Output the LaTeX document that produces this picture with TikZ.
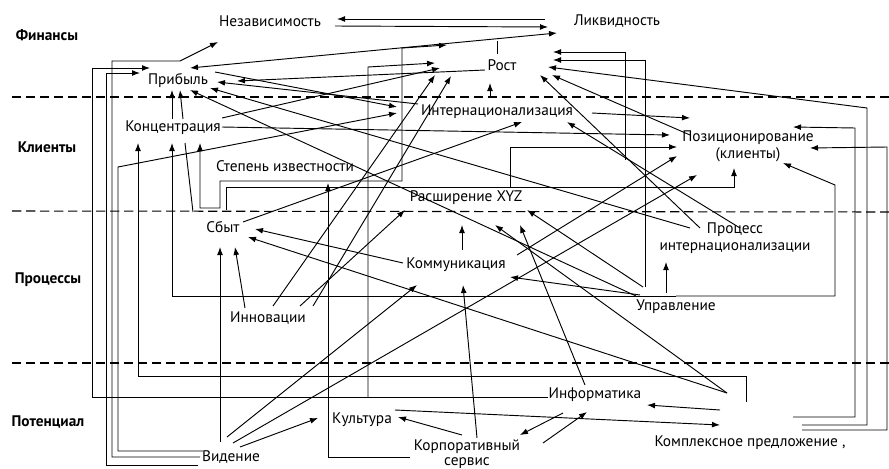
\documentclass[tikz,border=0pt]{standalone}
\usepackage{fontspec}
\setmainfont{PT Sans}
\usetikzlibrary{arrows.meta}
\begin{document}
\begin{tikzpicture}[x=0.75pt,y=-0.75pt,
  lbl/.style={font=\fontsize{11.5}{13}\selectfont, inner sep=1pt, align=center},
  row/.style={font=\bfseries\fontsize{11.5}{13}\selectfont, inner sep=1pt},
  con/.style={line width=0.7pt, -{Latex[length=6pt,width=4.4pt]}},
  con2/.style={line width=0.7pt, {Latex[length=6pt,width=4.4pt]}-{Latex[length=6pt,width=4.4pt]}},
  ln/.style={line width=0.7pt},
  sep/.style={line width=0.8pt, dash pattern=on 7pt off 3.5pt}]
\useasboundingbox (0,0) rectangle (889,468);
% row labels
\node[row] (fin) at (47,35) {Финансы};
\node[row] (kli) at (47,147) {Клиенты};
\node[row] (pro) at (48,280) {Процессы};
\node[row] (pot) at (48,422) {Потенциал};
% nodes
\node[lbl] (nez) at (270,21) {Независимость};
\node[lbl] (lik) at (617,21) {Ликвидность};
\node[lbl] (pri) at (178,80) {Прибыль};
\node[lbl] (rost) at (502,65) {Рост};
\node[lbl] (int) at (497,112) {Интернационализация};
\node[lbl] (kon) at (173,128) {Концентрация};
\node[lbl] (pos) at (748,146) {Позиционирование\\(клиенты)};
\node[lbl] (ste) at (285,166) {Степень известности};
\node[lbl] (ras) at (466,198) {Расширение XYZ};
\node[lbl] (sby) at (223,227) {Сбыт};
\node[lbl] (pin) at (735,238) {Процесс\\интернационализации};
\node[lbl] (kom) at (456,265) {Коммуникация};
\node[lbl] (inn) at (268,318) {Инновации};
\node[lbl] (upr) at (676,307) {Управление};
\node[lbl] (inf) at (595,395) {Информатика};
\node[lbl] (kul) at (362,420) {Культура};
\node[lbl, font=\fontsize{11.5}{11.5}\selectfont] (kor) at (467,454) {Корпоративный\\сервис};
\node[lbl] (kpr) at (750,443) {Комплексное предложение ,};
\node[lbl] (vid) at (231,457) {Видение};
% separators
\draw[sep] (12,97) -- (889,97);
\draw[sep] (12,211) -- (889,212);
\draw[sep] (12,363) -- (889,363);
% finance row
\draw[con] (545,19) -- (337,19);
\draw[con] (335,26) -- (548,27);
\draw[con2] (190,68) -- (557,33);
\draw[ln] (497,54) -- (497,41);
% left buses
\draw[con] (200,457) -- (112,457) -- (112,61) -- (180,61) -- (218,42);
\draw[con] (198,465) -- (106,465) -- (106,73) -- (140,73);
\draw[con] (203,451) -- (118,451) -- (118,167) -- (397,113);
\draw[con] (548,397) -- (92,397) -- (92,68) -- (150,68);
\draw[con] (746,402) -- (746,376) -- (138,376) -- (138,143);
\draw[con] (676,296) -- (172,296) -- (172,143);
\draw[con] (676,296) -- (835,296) -- (835,185) -- (783,163);
\draw[con] (172,119) -- (172,90);
\draw[con] (183,119) -- (180,90);
\draw[ln] (193,212) -- (185,143);
\draw[con2] (200,143) -- (200,208) -- (220,208) -- (220,181) -- (402,181) -- (402,48) -- (447,45);
\draw[con] (368,397) -- (368,67) -- (435,63);
\draw[con] (410,457) -- (328,457) -- (328,183);
% middle
\draw[con] (477,438) -- (463,285);
\draw[con] (490,98) -- (490,83);
\draw[con] (462,250) -- (462,225);
\draw[con] (300,306) -- (405,210);
\draw[con] (273,306) -- (435,75);
\draw[con] (313,306) -- (451,76);
\draw[con] (220,442) -- (220,247);
\draw[con] (245,308) -- (235,247);
\draw[con] (403,263) -- (255,229);
\draw[con] (727,393) -- (248,237);
\draw[con] (227,437) -- (417,285);
\draw[con] (233,443) -- (697,175);
\draw[con] (240,447) -- (318,418);
\draw[con] (395,410) -- (720,425);
\draw[con] (720,410) -- (647,405);
\draw[con] (563,413) -- (520,435);
\draw[con] (543,443) -- (587,412);
\draw[con] (462,435) -- (398,417);
\draw[con] (666,293) -- (666,262);
\draw[con] (640,295) -- (510,277);
\draw[con] (643,287) -- (527,210);
\draw[con] (645,287) -- (645,60) -- (553,60);
\draw[con] (625,160) -- (625,52) -- (553,52);
\draw[con] (226,210) -- (226,187) -- (734,187) -- (734,168);
\draw[con] (510,187) -- (510,147) -- (677,147);
% right buses
\draw[con] (793,417) -- (855,417) -- (855,128) -- (793,127);
\draw[con] (802,430) -- (887,430) -- (887,147) -- (810,148);
\draw[con] (802,425) -- (867,425) -- (867,108) -- (548,67);
% diagonals
\draw[con] (592,113) -- (690,118);
\draw[con] (222,127) -- (670,135);
\draw[con] (517,255) -- (677,156);
\draw[con] (485,70) -- (237,81);
\draw[con] (418,104) -- (217,82);
\draw[con] (690,228) -- (210,88);
\draw[con] (636,296) -- (190,90);
\draw[con] (215,72) -- (397,107);
\draw[con] (243,222) -- (522,122);
\draw[con] (740,228) -- (567,122);
\draw[con] (727,393) -- (495,225);
\draw[con] (585,385) -- (520,225);
\draw[con] (222,118) -- (440,68);
\draw[con] (700,228) -- (540,75);
\draw[con] (690,135) -- (552,75);
\end{tikzpicture}
\end{document}
